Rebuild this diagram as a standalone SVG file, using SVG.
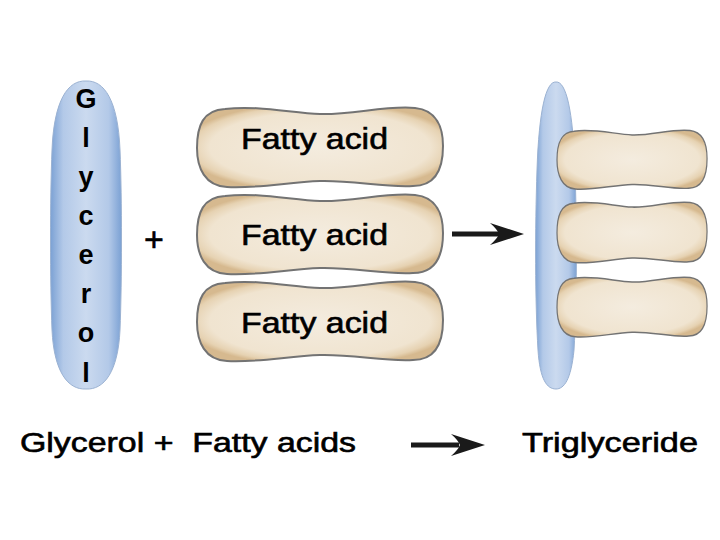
<svg xmlns="http://www.w3.org/2000/svg" xmlns:xlink="http://www.w3.org/1999/xlink" width="720" height="540" viewBox="0 0 720 540">
<defs>
<linearGradient id="gly" x1="0" y1="0" x2="1" y2="0">
<stop offset="0" stop-color="#7ba1d4"/>
<stop offset="0.18" stop-color="#b3c9e8"/>
<stop offset="0.5" stop-color="#cbdaef"/>
<stop offset="0.82" stop-color="#b3c9e8"/>
<stop offset="1" stop-color="#7ba1d4"/>
</linearGradient>
<radialGradient id="fat" cx="0.5" cy="0.5" r="0.56">
<stop offset="0" stop-color="#f4ecdf"/>
<stop offset="0.8" stop-color="#f0e4d0"/>
<stop offset="0.93" stop-color="#e6d2b2"/>
<stop offset="1" stop-color="#d6b98f"/>
</radialGradient>
<path id="fa" d="M 28,3 C 60,-1 95,7 123,8 C 155,9 190,-1 218,2 C 240,4 246,22 246,40 C 246,60 240,80 216,80 C 190,82 155,74 123,75 C 92,76 58,83 30,81 C 8,80 0,62 0,42 C 0,20 6,4 28,3 Z"/>
<style>
.fa{fill:url(#fat);stroke:#737373;stroke-width:2;vector-effect:non-scaling-stroke}
.gly{fill:url(#gly);stroke:#9bb2d2;stroke-width:1}
.t{font-family:"Liberation Sans",Arial,sans-serif;fill:#000;stroke:#000;stroke-width:0.6}
.arrow{stroke:#1a1a1a;stroke-width:5;fill:none}
.head{fill:#1a1a1a}
</style>
</defs>
<rect width="720" height="540" fill="#ffffff"/>

<g id="glycerol">
<path class="gly" d="M 86,81 C 104,80 118,100 120,150 C 122,200 122,280 120,330 C 118,372 104,390 86,389 C 68,390 54,372 52,330 C 50,280 50,200 52,150 C 54,100 68,80 86,81 Z"/>
<g class="t" font-size="27" font-weight="bold" text-anchor="middle" style="stroke-width:0">
<text x="86" y="108">G</text>
<text x="86" y="147">l</text>
<text x="86" y="186">y</text>
<text x="86" y="225">c</text>
<text x="86" y="264">e</text>
<text x="86" y="303">r</text>
<text x="86" y="342">o</text>
<text x="86" y="382">l</text>
</g>
</g>

<g id="plus">
<text class="t" x="154" y="251" font-size="34" text-anchor="middle">+</text>
</g>

<g id="fatty-acid-1">
<use xlink:href="#fa" class="fa" transform="translate(197,106)"/>
<text class="t" x="241" y="149" font-size="29" textLength="147" lengthAdjust="spacingAndGlyphs">Fatty acid</text>
</g>
<g id="fatty-acid-2">
<use xlink:href="#fa" class="fa" transform="translate(197,193)"/>
<text class="t" x="241" y="245" font-size="29" textLength="147" lengthAdjust="spacingAndGlyphs">Fatty acid</text>
</g>
<g id="fatty-acid-3">
<use xlink:href="#fa" class="fa" transform="translate(197,280)"/>
<text class="t" x="241" y="333" font-size="29" textLength="147" lengthAdjust="spacingAndGlyphs">Fatty acid</text>
</g>

<g id="triglyceride">
<path class="gly" d="M 556,82 C 566,81 573,110 575,170 C 577,230 577,300 574,350 C 571,380 564,389 556,389 C 547,389 540,380 538,350 C 535,300 535,230 537,170 C 539,110 546,81 556,82 Z"/>
<use xlink:href="#fa" class="fa" transform="translate(557,129) scale(0.61,0.74)"/>
<use xlink:href="#fa" class="fa" transform="translate(557,201) scale(0.61,0.76)"/>
<use xlink:href="#fa" class="fa" transform="translate(557,276) scale(0.61,0.75)"/>
</g>

<g id="connectors">
<line class="arrow" x1="452" y1="234" x2="499" y2="234"/>
<path class="head" d="M 524,234 L 490,223 Q 497,229 499,234 Q 497,239 490,245 Z"/>
<line class="arrow" x1="411" y1="445" x2="459" y2="445"/>
<path class="head" d="M 485,445 L 451,434 Q 458,440 460,445 Q 458,450 451,456 Z"/>
</g>

<g id="labels">
<text class="t" x="20" y="452" font-size="27" textLength="336" lengthAdjust="spacingAndGlyphs" xml:space="preserve">Glycerol +  Fatty acids</text>
<text class="t" x="522" y="452" font-size="27" textLength="176" lengthAdjust="spacingAndGlyphs">Triglyceride</text>
</g>
</svg>
